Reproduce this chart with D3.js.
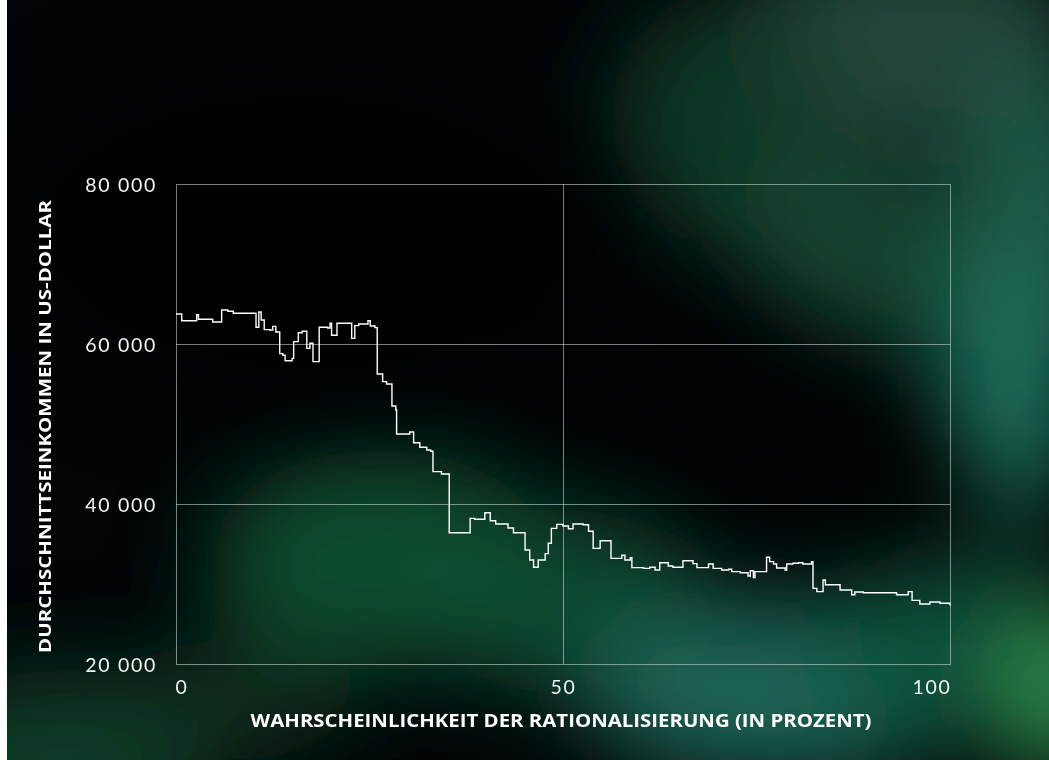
<!DOCTYPE html>
<html>
<head>
<meta charset="utf-8">
<script src="https://cdn.jsdelivr.net/npm/d3@7"></script>
<style>
  html, body { margin: 0; padding: 0; background: #ffffff; }
  svg { display: block; }
</style>
</head>
<body>
<svg id="chart" width="1049" height="760"></svg>
<script>
// ---- data ----
const probability = [0, 0.74, 2.67, 2.9, 4.74, 5.9, 6.7, 7.4, 10.34, 10.7, 11.0, 11.4, 12.1, 12.5, 12.9,
  13.4, 13.8, 14.1, 15.0, 15.2, 15.8, 16.3, 16.9, 17.3, 17.7, 18.5, 19.6, 19.9, 20.1, 20.8, 22.7,
  23.1, 23.6, 24.8, 25.1, 25.7, 26.0, 26.7, 27.2, 27.9, 28.4, 28.5, 30.2, 30.7, 31.5, 32.4, 32.9,
  33.2, 34.3, 35.3, 38.0, 38.6, 39.9, 40.6, 41.3, 42.9, 43.6, 45.1, 45.7, 46.2, 46.8, 47.7, 48.1,
  48.5, 49.2, 50.0, 50.7, 51.3, 52.6, 53.3, 53.9, 54.8, 56.2, 57.6, 58.0, 58.7, 58.9, 60.4, 61.2,
  61.9, 62.5, 63.6, 64.2, 65.5, 66.8, 67.3, 68.8, 69.4, 70.5, 71.4, 71.8, 72.9, 73.9, 74.2, 74.6,
  74.8, 76.3, 76.7, 77.2, 77.6, 78.7, 78.9, 79.7, 80.4, 81.0, 82.1, 82.3, 82.8, 83.6, 83.9, 85.8,
  87.3, 87.7, 88.8, 93.1, 94.6, 95.1, 96.1, 97.4, 98.7, 100];
const income = [63750, 62900, 63650, 63100, 62750, 64250, 64100, 63850, 62100, 64000, 63000, 61800, 61750, 62200, 61500,
  58800, 58600, 57900, 58200, 60300, 61400, 61600, 59450, 60100, 57800, 62100, 62000, 62600, 61100, 62600, 60700,
  62300, 62500, 62900, 62250, 62050, 56250, 55300, 55000, 52250, 51750, 48750, 49000, 47650, 47100, 46750, 46600,
  44050, 43750, 36400, 38200, 38100, 38900, 37900, 37500, 37000, 36400, 34250, 33000, 32100, 33000, 33800, 35100,
  36950, 37450, 37250, 36900, 37500, 37400, 36600, 34450, 35400, 33200, 33600, 33000, 33300, 32050, 31950, 32100,
  31750, 32650, 32250, 32100, 32900, 32550, 32050, 32500, 31950, 31750, 31850, 31550, 31400, 31000, 31650, 30800,
  31550, 33350, 32800, 32500, 32000, 31750, 32500, 32600, 32650, 32500, 32800, 29450, 29050, 30500, 29900, 29250,
  28650, 29000, 28900, 28650, 29050, 27950, 27500, 27750, 27600, 27300];
const xTicks = [0, 50, 100];
const yTicks = [20000, 40000, 60000, 80000];
const xTitle = "WAHRSCHEINLICHKEIT DER RATIONALISIERUNG (IN PROZENT)";
const yTitle = "DURCHSCHNITTSEINKOMMEN IN US-DOLLAR";

// ---- layout ----
const W = 1049, H = 760;
const plot = { left: 176, right: 950, top: 184, bottom: 664 };
const svg = d3.select("#chart");

// ---- background ----
const defs = svg.append("defs");
const blur = defs.append("filter").attr("id", "blur")
  .attr("x", "-50%").attr("y", "-50%").attr("width", "200%").attr("height", "200%");
blur.append("feGaussianBlur").attr("stdDeviation", 45);

svg.append("rect").attr("x", 0).attr("y", 0).attr("width", W).attr("height", H).attr("fill", "#ffffff");
defs.append("clipPath").attr("id", "bgclip").append("rect")
  .attr("x", 7).attr("y", 0).attr("width", W - 7).attr("height", H);
const bg = svg.append("g").attr("clip-path", "url(#bgclip)");
bg.append("rect").attr("x", 7).attr("y", 0).attr("width", W - 7).attr("height", H).attr("fill", "#020507");

const blobs = bg.append("g").attr("filter", "url(#blur)");
const blobData = [
  // cx, cy, rx, ry, rotate, color, opacity
  [910, 40, 180, 110, 0, "#234a3d", 0.95],
  [720, 120, 110, 120, 0, "#123a29", 0.9],
  [870, 250, 150, 90, 20, "#154634", 0.95],
  [1040, 230, 80, 160, 0, "#1f6452", 0.9],
  [1010, 390, 70, 130, 0, "#1f6d5a", 1],
  [380, 560, 170, 110, 0, "#0e4b2e", 1],
  [560, 600, 150, 90, 0, "#0f5034", 0.9],
  [780, 690, 200, 90, 0, "#1a6455", 1],
  [950, 640, 120, 100, 0, "#10503a", 0.9],
  [1060, 690, 60, 90, 0, "#2f8c4c", 1],
  [60, 760, 160, 90, 0, "#0b3a26", 1],
  [230, 700, 120, 60, 0, "#0a3322", 0.8]
];
blobData.forEach(b => {
  blobs.append("ellipse")
    .attr("cx", b[0]).attr("cy", b[1]).attr("rx", b[2]).attr("ry", b[3])
    .attr("transform", `rotate(${b[4]},${b[0]},${b[1]})`)
    .attr("fill", b[5]).attr("opacity", b[6]);
});
// dark diagonal band through the middle
bg.append("g").attr("filter", "url(#blur)")
  .append("ellipse").attr("cx", 720).attr("cy", 410).attr("rx", 300).attr("ry", 50)
  .attr("transform", "rotate(24,720,410)").attr("fill", "#010303").attr("opacity", 0.9);
bg.append("g").attr("filter", "url(#blur)")
  .append("ellipse").attr("cx", 300).attr("cy", 230).attr("rx", 300).attr("ry", 170)
  .attr("fill", "#010304").attr("opacity", 1);

// ---- scales ----
const x = d3.scaleLinear().domain([0, 100]).range([plot.left, plot.right]);
const y = d3.scaleLinear().domain([20000, 80000]).range([plot.bottom, plot.top]);

const gridColor = "rgba(200,212,212,0.6)";

// grid lines
const g = svg.append("g");
g.selectAll(".hgrid").data(yTicks.filter(d => d > 20000 && d < 80000)).join("line")
  .attr("x1", plot.left).attr("x2", plot.right)
  .attr("y1", d => y(d) + 0.5).attr("y2", d => y(d) + 0.5)
  .attr("stroke", gridColor).attr("stroke-width", 1);
g.selectAll(".vgrid").data(xTicks.filter(d => d > 0 && d < 100)).join("line")
  .attr("x1", d => x(d) + 0.5).attr("x2", d => x(d) + 0.5)
  .attr("y1", plot.top).attr("y2", plot.bottom)
  .attr("stroke", gridColor).attr("stroke-width", 1);

// frame
g.append("rect")
  .attr("x", plot.left + 0.5).attr("y", plot.top + 0.5)
  .attr("width", plot.right - plot.left).attr("height", plot.bottom - plot.top)
  .attr("fill", "none").attr("stroke", gridColor).attr("stroke-width", 1);

// ---- axes labels ----
const tickFont = "Lato, 'Open Sans', sans-serif";

const yAxis = d3.axisLeft(y).tickValues(yTicks).tickSize(0).tickPadding(0)
  .tickFormat(d => d3.format(",")(d).replace(/,/g, " "));
const ya = svg.append("g").attr("transform", `translate(157,0)`).call(yAxis);
ya.select(".domain").remove();
ya.selectAll("text")
  .attr("fill", "#f2f6f5").attr("font-family", tickFont).attr("font-size", 19.5)
  .attr("font-weight", 400)
  .attr("letter-spacing", "1.7px").attr("dy", "0.38em");

const xAxis = d3.axisBottom(x).tickValues(xTicks).tickSize(0).tickPadding(0);
const xa = svg.append("g").attr("transform", `translate(0,680)`).call(xAxis);
xa.select(".domain").remove();
xa.selectAll("text")
  .attr("fill", "#f2f6f5").attr("font-family", tickFont).attr("font-size", 19.5)
  .attr("font-weight", 400)
  .attr("letter-spacing", "1.7px").attr("dy", "0.7em")
  .attr("text-anchor", d => d === 0 ? "start" : (d === 100 ? "end" : "middle"))
  .attr("dx", d => d === 0 ? -1 : (d === 100 ? 1 : 0));

// titles
svg.append("text")
  .attr("x", (plot.left + plot.right) / 2 - 2).attr("y", 727)
  .attr("text-anchor", "middle")
  .attr("fill", "#ffffff").attr("font-family", "'Open Sans', 'Noto Sans', sans-serif")
  .attr("font-weight", 700).attr("font-size", 17)
  .attr("textLength", 621).attr("lengthAdjust", "spacingAndGlyphs")
  .text(xTitle);

svg.append("text")
  .attr("transform", `translate(51,${(200 + 653) / 2}) rotate(-90)`)
  .attr("text-anchor", "middle")
  .attr("fill", "#ffffff").attr("font-family", "'Open Sans', 'Noto Sans', sans-serif")
  .attr("font-weight", 700).attr("font-size", 16.5)
  .attr("textLength", 453).attr("lengthAdjust", "spacingAndGlyphs")
  .text(yTitle);

// ---- line ----
const data = probability.map((p, i) => ({ p, v: income[i] }));
const line = d3.line().x(d => x(d.p)).y(d => y(d.v)).curve(d3.curveStepAfter);
svg.append("path").datum(data)
  .attr("d", line)
  .attr("fill", "none").attr("stroke", "#ffffff").attr("stroke-width", 1.4)
  .attr("stroke-linejoin", "miter");
</script>
</body>
</html>
